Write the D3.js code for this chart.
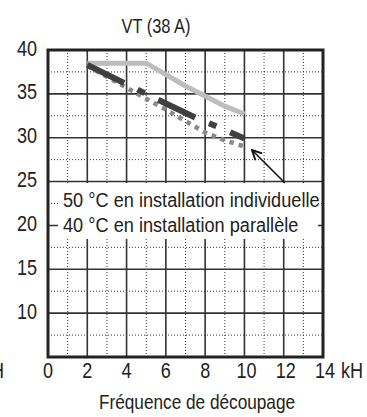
<!DOCTYPE html>
<html><head><meta charset="utf-8">
<script src="https://cdn.jsdelivr.net/npm/d3@7"></script>
<style>body{margin:0;background:#fff}svg{display:block}text{font-family:"Liberation Sans",Arial,sans-serif;fill:#222}</style>
</head><body><svg id="c" width="367" height="417"></svg>
<script>
const title = "VT (38 A)";
const xTitle = "Fréquence de découpage";
const xUnit = "kH";
const xTicks = [0, 2, 4, 6, 8, 10, 12, 14];
const yTicks = [10, 15, 20, 25, 30, 35, 40];
const xMinor = [1, 3, 5, 7, 9, 11, 13];
const yMinor = [7.5, 12.5, 17.5, 22.5, 27.5, 32.5, 37.5];
const legendLabels = ["50 °C en installation individuelle", "40 °C en installation parallèle"];
// series (kHz, current A)
const lightX = [2, 5, 7, 9, 10];
const lightY = [38.5, 38.5, 35.9, 33.6, 32.7];
const darkX = [2, 4, 6, 7.5, 9, 10];
const darkY = [38.3, 36.1, 33.9, 32.3, 30.9, 29.9];
const dotX = [2, 4, 6, 8, 9, 10];
const dotY = [38.2, 35.7, 33.2, 30.6, 29.7, 29.0];

const svg = d3.select("#c");
const L = 48, R = 323, T = 50, B = 357;
const x = d3.scaleLinear().domain([0, 14]).range([L, R]);
const y = d3.scaleLinear().domain([5, 40]).range([B, T]);

function txt(px, py, s, size, anchor, sx) {
  return svg.append("text")
    .attr("transform", `translate(${px},${py}) scale(${sx || 0.84},1)`)
    .attr("text-anchor", anchor || "start").attr("font-size", size).text(s);
}

// minor dotted grid
const g = svg.append("g");
g.selectAll(".mx").data(xMinor).join("line")
  .attr("x1", d => x(d)).attr("x2", d => x(d)).attr("y1", T).attr("y2", B)
  .attr("stroke", "#333").attr("stroke-width", 1).attr("stroke-dasharray", "1,2");
g.selectAll(".my").data(yMinor).join("line")
  .attr("y1", d => y(d)).attr("y2", d => y(d)).attr("x1", L).attr("x2", R)
  .attr("stroke", "#333").attr("stroke-width", 1).attr("stroke-dasharray", "1,2");
// major grid
g.selectAll(".Mx").data(xTicks).join("line")
  .attr("x1", d => x(d)).attr("x2", d => x(d)).attr("y1", T).attr("y2", B)
  .attr("stroke", "#333").attr("stroke-width", 1.6);
g.selectAll(".My").data(yTicks).join("line")
  .attr("y1", d => y(d)).attr("y2", d => y(d)).attr("x1", L).attr("x2", R)
  .attr("stroke", "#333").attr("stroke-width", 1.6);
// frame
svg.append("rect").attr("x", L).attr("y", T).attr("width", R - L).attr("height", B - T)
  .attr("fill", "none").attr("stroke", "#222").attr("stroke-width", 3);

// series
const line = d3.line().x(d => x(d[0])).y(d => y(d[1]));
svg.append("path").datum(d3.zip(lightX, lightY)).attr("d", line)
  .attr("fill", "none").attr("stroke", "#bdbdbd").attr("stroke-width", 5);
svg.append("path").datum(d3.zip(dotX, dotY)).attr("d", line)
  .attr("fill", "none").attr("stroke", "#8a8a8a").attr("stroke-width", 4.5).attr("stroke-dasharray", "4.5,5");
svg.append("path").datum(d3.zip(darkX, darkY)).attr("d", line)
  .attr("fill", "none").attr("stroke", "#404040").attr("stroke-width", 6).attr("stroke-dasharray", "41,15,8,15");

// legend box
svg.append("rect").attr("x", 58).attr("y", 183).attr("width", 260).attr("height", 56).attr("fill", "#fff");
legendLabels.forEach((s, i) => txt(63, 207 + i * 24.5, s, 21, "start", 0.865));

// arrow
svg.append("defs").append("marker").attr("id", "ah").attr("viewBox", "0 0 10 10")
  .attr("refX", 9).attr("refY", 5).attr("markerWidth", 12).attr("markerHeight", 12)
  .attr("markerUnits", "userSpaceOnUse").attr("orient", "auto")
  .append("path").attr("d", "M1,1 L9,5 L1,9").attr("fill", "none").attr("stroke", "#111").attr("stroke-width", 1.6);
svg.append("line").attr("x1", 285).attr("y1", 183).attr("x2", 252).attr("y2", 150)
  .attr("stroke", "#111").attr("stroke-width", 1.6).attr("marker-end", "url(#ah)");

// y labels
yTicks.forEach(d => txt(37, y(d) + 5.5, d, 21.5, "end"));
// x labels
xTicks.forEach(d => txt(x(d) + (d >= 10 ? 2 : 0), 378, d, 21.5, "middle"));
txt(x(14) + 18, 378, xUnit, 21.5);
txt(4, 378, xUnit, 21.5, "end");
// titles
txt(156, 33, title, 20, "middle", 0.82);
txt(197, 409, xTitle, 21, "middle", 0.82);
</script></body></html>
